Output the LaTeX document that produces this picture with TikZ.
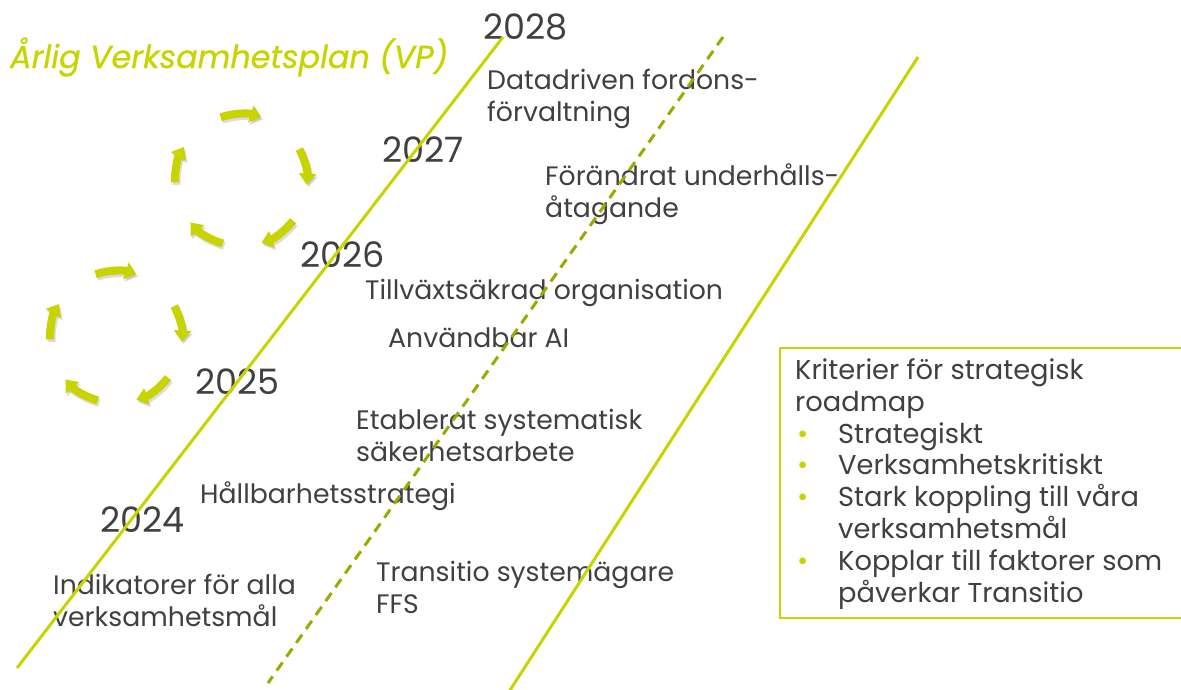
\documentclass[tikz,border=0pt]{standalone}
\usepackage{fontspec}
\setmainfont{Poppins}
\newfontfamily\titlefont{Poppins}[ItalicFeatures={FakeBold=0.8}]
\usetikzlibrary{arrows.meta,calc}
\definecolor{lime}{HTML}{C8D400}
\definecolor{olivedash}{HTML}{9AAA00}
\definecolor{txt}{HTML}{404040}
\begin{document}
\begin{tikzpicture}[x=1pt,y=-1pt,
  year/.style={anchor=base west, text=txt, font=\fontsize{35}{40}\selectfont, inner sep=0pt},
  body/.style={anchor=base west, text=txt, font=\fontsize{26.7}{32}\selectfont, inner sep=0pt, align=left},
  boxtext/.style={anchor=base west, text=txt, font=\fontsize{27.3}{31.8}\selectfont, inner sep=0pt, align=left},
  cyc/.style={line width=8pt, lime, -{Triangle[width=17pt,length=11pt]}},
  cycshadow/.style={line width=8pt, black!45, opacity=0.3, -{Triangle[width=17pt,length=11pt]}},
  road/.style={lime, line width=3pt},
  roaddash/.style={olivedash, line width=3pt, dash pattern=on 10pt off 7pt}]
\useasboundingbox (0,0) rectangle (1181,689);
\clip (0,0) rectangle (1181,689);

% title
\node[anchor=base west, inner sep=0pt, text=lime, font=\fontsize{31.8}{36}\titlefont\itshape] (title) at (10,68) {Årlig Verksamhetsplan (VP)};

% cycles
\coordinate (c1) at (241,180);
\coordinate (c2) at (116,337);
\foreach \c in {c1,c2}{
  \foreach \s/\e in {108/72, 28/-4, -38/-72, -106/-140, 182/150}{
    \draw[cycshadow] ($(\c)+(-\s:66)+(1.5,2.5)$) arc[start angle=-\s, end angle=-\e, radius=66];
    \draw[cyc] ($(\c)+(-\s:66)$) arc[start angle=-\s, end angle=-\e, radius=66];
  }
}

% years
\node[year] (y2028) at (483,39) {2028};
\node[year] (y2027) at (382,162) {2027};
\node[year] (y2026) at (300,267) {2026};
\node[year] (y2025) at (195,394) {2025};
\node[year] (y2024) at (100,532) {2024};

% items (anchor = baseline of last line)
\node[body] (t1) at (487,121) {Datadriven fordons-\\förvaltning};
\node[body] (t2) at (545,217) {Förändrat underhålls-\\åtagande};
\node[body] (t3) at (365,299) {Tillväxtsäkrad organisation};
\node[body] (t4) at (388,347) {Användbar AI};
\node[body] (t5) at (356,461) {Etablerat systematisk\\säkerhetsarbete};
\node[body] (t6) at (200,503) {Hållbarhetsstrategi};
\node[body] (t7) at (53,626) {Indikatorer för alla\\verksamhetsmål};
\node[body] (t8) at (376,613) {Transitio systemägare\\FFS};

% roads
\coordinate (l1a) at (503,37);
\coordinate (l1b) at (17,668);
\coordinate (l2a) at (723,37);
\coordinate (l2b) at (268,683);
\coordinate (l3a) at (918,57);
\coordinate (l3b) at (505,698);
\draw[road] (l1a) -- (l1b);
\draw[roaddash] (l2a) -- (l2b);
\draw[road] (l3a) -- (l3b);

% criteria box
\draw[lime, line width=2.5pt] (780,348) rectangle (1200,618);
\node[boxtext] (crit) at (795,602) {Kriterier för strategisk\\roadmap\\
\makebox[43pt][l]{\hspace{2pt}\textcolor{lime}{•}}Strategiskt\\
\makebox[43pt][l]{\hspace{2pt}\textcolor{lime}{•}}Verksamhetskritiskt\\
\makebox[43pt][l]{\hspace{2pt}\textcolor{lime}{•}}Stark koppling till våra\\
\hspace*{43pt}verksamhetsmål\\
\makebox[43pt][l]{\hspace{2pt}\textcolor{lime}{•}}Kopplar till faktorer som\\
\hspace*{43pt}påverkar Transitio};
\end{tikzpicture}
\end{document}
